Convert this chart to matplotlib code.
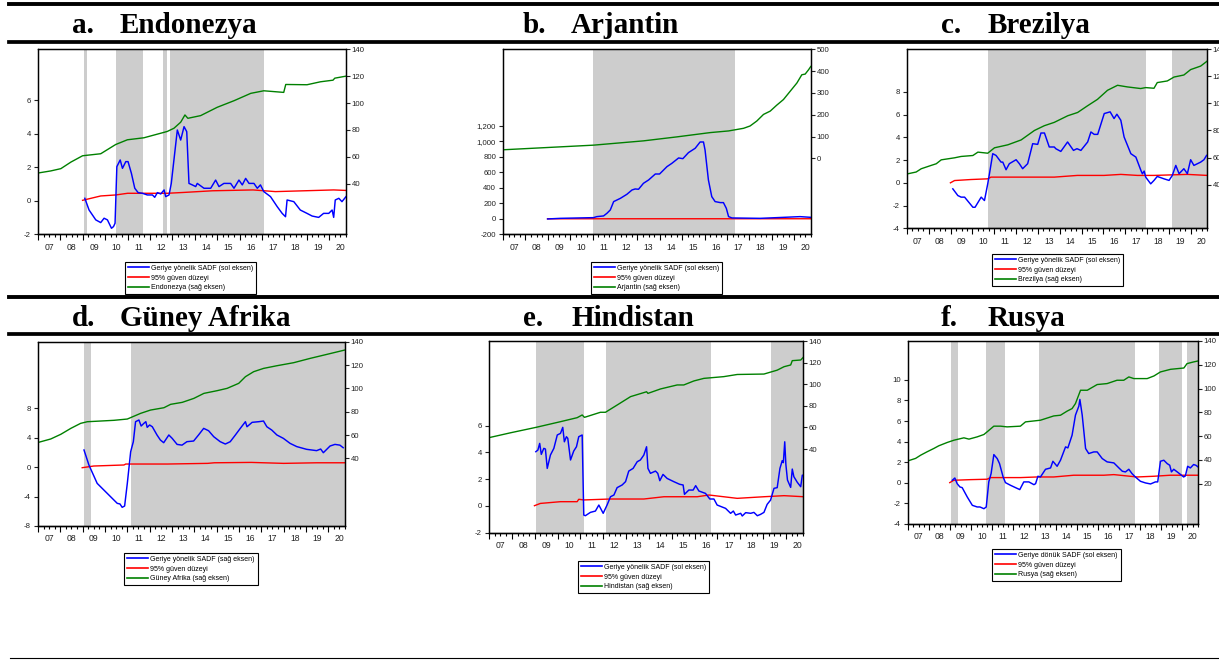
import matplotlib
matplotlib.use("Agg")
import matplotlib.pyplot as plt
from matplotlib.lines import Line2D
from matplotlib.ticker import MultipleLocator

W, H = 1219, 660
plt.rcParams['font.family'] = ['Liberation Sans', 'DejaVu Sans']

# ---- veriler ----
# a. Endonezya
endo_golge = [(2009.04, 2009.18), (2010.47, 2011.69), (2012.56, 2012.77), (2012.88, 2017.11)]
endo_yesil_t = [2007.02, 2007.57, 2008.02, 2008.47, 2008.99, 2009.80, 2010.47, 2010.99, 2011.73, 2012.77,
                2013.07, 2013.37, 2013.56, 2013.69, 2014.26, 2015.0, 2015.75, 2016.5, 2017.08, 2017.97,
                2018.06, 2019.01, 2019.61, 2020.17, 2020.25, 2020.75]
endo_yesil_v = [47.9, 49.4, 51.1, 56.0, 60.7, 62.2, 69.1, 72.6, 74.1, 78.8,
                81.2, 85.7, 91.1, 88.6, 90.6, 96.8, 101.7, 107.2, 109.1, 107.9,
                113.8, 113.6, 115.8, 117.0, 118.5, 120.0]
endo_mavi_t = [2009.09, 2009.28, 2009.58, 2009.80, 2009.95, 2010.10, 2010.28, 2010.37, 2010.44, 2010.52,
               2010.67, 2010.77, 2010.92, 2011.02, 2011.17, 2011.32, 2011.47, 2011.66, 2011.88, 2012.11,
               2012.21, 2012.33, 2012.48, 2012.63, 2012.70, 2012.85, 2012.95, 2013.22, 2013.37, 2013.52,
               2013.64, 2013.74, 2013.89, 2014.04, 2014.11, 2014.41, 2014.71, 2014.93, 2015.08, 2015.30,
               2015.60, 2015.75, 2015.97, 2016.12, 2016.27, 2016.42, 2016.64, 2016.79, 2016.93, 2017.08,
               2017.38, 2017.68, 2017.90, 2018.05, 2018.12, 2018.42, 2018.71, 2019.01, 2019.24, 2019.53,
               2019.75, 2019.98, 2020.13, 2020.20, 2020.27, 2020.43, 2020.57, 2020.75]
endo_mavi_v = [0.15, -0.55, -1.14, -1.30, -1.04, -1.14, -1.64, -1.54, -1.34, 2.04,
               2.44, 1.94, 2.34, 2.34, 1.64, 0.75, 0.49, 0.45, 0.35, 0.35,
               0.21, 0.49, 0.41, 0.65, 0.25, 0.35, 1.04, 4.23, 3.63, 4.43,
               4.13, 1.04, 0.95, 0.85, 1.04, 0.75, 0.75, 1.24, 0.85, 1.04,
               1.04, 0.75, 1.24, 0.95, 1.34, 1.04, 1.04, 0.75, 0.95, 0.55,
               0.25, -0.35, -0.75, -0.95, 0.05, -0.05, -0.55, -0.75, -0.91, -0.99,
               -0.75, -0.75, -0.55, -0.99, 0.05, 0.15, -0.05, 0.25]
endo_kirmizi_t = [2008.99, 2009.8, 2010.47, 2011.0, 2012.77, 2013.5, 2014.8, 2016.6, 2017.6, 2020.2, 2020.75]
endo_kirmizi_v = [0.03, 0.29, 0.35, 0.45, 0.45, 0.5, 0.6, 0.65, 0.55, 0.65, 0.62]

# b. Arjantin
arj_golge = [(2011.04, 2017.34)]
arj_yesil_t = [2007.0, 2011.04, 2013.27, 2014.76, 2016.25, 2017.07, 2017.74, 2018.03, 2018.33, 2018.63,
               2018.93, 2019.22, 2019.52, 2019.82, 2020.12, 2020.34, 2020.49, 2020.64, 2020.74]
arj_yesil_v = [39.4, 60.6, 80.3, 98.5, 118.2, 125.8, 137.9, 148.5, 171.2, 201.5,
               216.7, 243.9, 269.7, 307.6, 345.5, 383.3, 386.4, 406.1, 421.2]
arj_mavi_t = [2008.99, 2009.56, 2011.04, 2011.19, 2011.49, 2011.64, 2011.79, 2011.94, 2012.24, 2012.53,
              2012.76, 2012.90, 2013.05, 2013.27, 2013.50, 2013.80, 2013.99, 2014.32, 2014.54, 2014.84,
              2015.03, 2015.28, 2015.58, 2015.80, 2015.95, 2016.02, 2016.17, 2016.32, 2016.47, 2016.70,
              2016.84, 2016.97, 2017.07, 2017.22, 2018.48, 2019.22, 2020.26, 2020.74]
arj_mavi_v = [-2, 6, 15, 28, 37, 71, 114, 222, 264, 316,
              372, 385, 381, 458, 501, 578, 578, 673, 716, 785,
              776, 854, 910, 991, 991, 888, 501, 286, 222, 209,
              209, 135, 28, 11, 6, 15, 28, 19]
arj_kirmizi_t = [2008.99, 2012.0, 2016.0, 2020.74]
arj_kirmizi_v = [0.0, 0.4, 0.6, 0.7]

# c. Brezilya
brz_golge = [(2010.73, 2017.94), (2019.16, 2020.8)]
brz_yesil_t = [2007.04, 2007.42, 2007.65, 2008.11, 2008.34, 2008.57, 2009.18, 2009.48, 2010.02, 2010.25,
               2010.70, 2011.01, 2011.62, 2012.23, 2012.84, 2013.29, 2013.75, 2014.37, 2014.82, 2015.27,
               2015.73, 2016.19, 2016.65, 2017.10, 2017.71, 2017.94, 2018.32, 2018.47, 2018.93, 2019.24,
               2019.69, 2020.0, 2020.46, 2020.76]
brz_yesil_v = [48.0, 49.3, 51.7, 54.2, 55.4, 58.3, 59.8, 60.8, 61.5, 64.0,
               63.2, 67.2, 69.4, 73.0, 80.0, 83.5, 86.0, 90.9, 93.3, 98.2,
               103.0, 109.7, 113.4, 112.2, 111.0, 111.7, 111.2, 115.4, 116.6, 119.5,
               121.0, 125.0, 127.6, 131.3]
brz_mavi_t = [2009.10, 2009.33, 2009.48, 2009.64, 2010.02, 2010.12, 2010.40, 2010.55, 2010.70, 2010.78,
              2010.93, 2011.08, 2011.31, 2011.39, 2011.54, 2011.69, 2012.0, 2012.15, 2012.30, 2012.53,
              2012.76, 2012.99, 2013.14, 2013.30, 2013.52, 2013.75, 2013.82, 2014.05, 2014.36, 2014.63,
              2014.79, 2014.97, 2015.28, 2015.43, 2015.58, 2015.74, 2016.04, 2016.31, 2016.49, 2016.62,
              2016.80, 2016.95, 2017.26, 2017.49, 2017.72, 2017.79, 2017.87, 2017.94, 2018.17, 2018.32,
              2018.47, 2018.78, 2019.01, 2019.16, 2019.32, 2019.47, 2019.69, 2019.85, 2020.0, 2020.15,
              2020.46, 2020.61, 2020.73]
brz_mavi_v = [-0.53, -1.12, -1.26, -1.26, -2.15, -2.15, -1.26, -1.56, -0.09, 0.80,
              2.56, 2.41, 1.82, 1.82, 1.15, 1.68, 2.03, 1.68, 1.24, 1.68,
              3.44, 3.38, 4.38, 4.38, 3.15, 3.15, 3.00, 2.76, 3.59, 2.85,
              3.00, 2.85, 3.59, 4.47, 4.26, 4.26, 6.09, 6.24, 5.65, 6.03,
              5.50, 4.03, 2.56, 2.26, 1.09, 0.79, 1.03, 0.50, -0.09, 0.21,
              0.56, 0.35, 0.21, 0.65, 1.53, 0.80, 1.24, 0.80, 2.03, 1.53,
              1.82, 2.03, 2.41]
brz_kirmizi_t = [2008.99, 2009.18, 2009.94, 2010.70, 2010.85, 2012.23, 2013.75, 2014.81, 2016.03, 2016.80,
                 2017.56, 2018.32, 2019.85, 2020.76]
brz_kirmizi_v = [0.0, 0.2, 0.29, 0.35, 0.5, 0.5, 0.5, 0.65, 0.65, 0.74, 0.65, 0.65, 0.74, 0.65]

# d. Guney Afrika
gaf_golge = [(2009.05, 2009.36), (2011.15, 2020.8)]
gaf_yesil_t = [2007.02, 2007.57, 2008.02, 2008.47, 2008.91, 2009.21, 2009.81, 2010.40, 2011.0, 2011.6,
               2012.04, 2012.64, 2012.94, 2013.46, 2013.98, 2014.43, 2015.02, 2015.47, 2015.99, 2016.29,
               2016.66, 2017.10, 2017.70, 2018.45, 2019.19, 2019.93, 2020.75]
gaf_yesil_v = [53.7, 56.6, 60.6, 65.7, 70.0, 71.4, 72.0, 72.6, 73.7, 78.6,
               81.4, 83.4, 86.3, 88.0, 91.4, 95.7, 98.0, 100.0, 104.3, 110.0,
               114.3, 117.1, 119.4, 122.0, 125.7, 129.1, 132.9]
gaf_mavi_t = [2009.06, 2009.28, 2009.65, 2010.10, 2010.55, 2010.67, 2010.77, 2010.88, 2011.0, 2011.15,
              2011.27, 2011.37, 2011.52, 2011.62, 2011.74, 2011.83, 2011.89, 2012.0, 2012.12, 2012.33,
              2012.48, 2012.63, 2012.86, 2013.01, 2013.23, 2013.45, 2013.67, 2013.97, 2014.19, 2014.42,
              2014.64, 2014.87, 2015.16, 2015.39, 2015.61, 2015.84, 2016.06, 2016.29, 2016.36, 2016.59,
              2016.89, 2017.10, 2017.25, 2017.47, 2017.70, 2017.99, 2018.29, 2018.59, 2019.03, 2019.48,
              2019.66, 2019.78, 2020.08, 2020.30, 2020.52, 2020.67]
gaf_mavi_v = [2.34, 0.30, -2.20, -3.56, -4.92, -5.00, -5.46, -5.28, -2.20, 2.10,
              3.47, 6.19, 6.42, 5.60, 5.96, 6.19, 5.42, 5.74, 5.50, 4.38,
              3.70, 3.33, 4.38, 3.92, 3.10, 3.00, 3.47, 3.56, 4.38, 5.28,
              4.96, 4.15, 3.47, 3.15, 3.47, 4.38, 5.28, 6.19, 5.50, 6.10,
              6.19, 6.28, 5.50, 5.05, 4.38, 3.92, 3.24, 2.80, 2.43, 2.25,
              2.47, 1.97, 2.88, 3.10, 3.00, 2.65]
gaf_kirmizi_t = [2008.98, 2009.5, 2010.85, 2010.93, 2012.8, 2014.6, 2014.9, 2016.55, 2018.0, 2019.5, 2020.75]
gaf_kirmizi_v = [-0.07, 0.16, 0.30, 0.43, 0.43, 0.52, 0.60, 0.65, 0.52, 0.60, 0.60]

# e. Hindistan
hnd_golge = [(2009.05, 2011.18), (2012.14, 2016.70), (2019.33, 2020.8)]
hnd_yesil_t = [2007.0, 2007.94, 2009.05, 2010.13, 2010.86, 2011.08, 2011.18, 2011.88, 2012.10, 2012.61,
               2013.20, 2013.90, 2013.96, 2014.51, 2015.24, 2015.53, 2015.97, 2016.41, 2017.28, 2017.87,
               2019.04, 2019.62, 2019.92, 2020.21, 2020.28, 2020.65, 2020.79]
hnd_yesil_v = [50.5, 55.0, 60.0, 65.3, 69.0, 71.5, 69.3, 74.0, 74.0, 80.7,
               88.5, 93.0, 91.5, 95.6, 99.3, 99.3, 103.0, 105.4, 107.0, 109.0,
               109.4, 113.0, 116.2, 117.8, 121.8, 122.4, 125.5]
hnd_mavi_t = [2009.05, 2009.14, 2009.22, 2009.29, 2009.40, 2009.47, 2009.55, 2009.69, 2009.84, 2009.99,
              2010.13, 2010.23, 2010.30, 2010.39, 2010.45, 2010.57, 2010.71, 2010.83, 2010.93, 2011.08,
              2011.15, 2011.22, 2011.44, 2011.66, 2011.81, 2012.0, 2012.17, 2012.32, 2012.47, 2012.61,
              2012.83, 2012.98, 2013.12, 2013.31, 2013.49, 2013.63, 2013.78, 2013.90, 2013.96, 2014.07,
              2014.29, 2014.39, 2014.48, 2014.62, 2014.80, 2015.09, 2015.35, 2015.50, 2015.56, 2015.75,
              2015.94, 2016.05, 2016.19, 2016.48, 2016.67, 2016.85, 2016.99, 2017.36, 2017.58, 2017.70,
              2017.80, 2018.02, 2018.09, 2018.24, 2018.46, 2018.60, 2018.75, 2018.89, 2019.04, 2019.18,
              2019.33, 2019.48, 2019.62, 2019.74, 2019.84, 2019.89, 2019.95, 2020.0, 2020.07, 2020.21,
              2020.28, 2020.35, 2020.50, 2020.65, 2020.72, 2020.79]
hnd_mavi_v = [4.06, 4.18, 4.68, 3.86, 4.31, 4.26, 2.81, 3.81, 4.31, 5.31,
              5.43, 5.88, 4.80, 5.18, 5.06, 3.44, 4.11, 4.43, 5.18, 5.31,
              -0.68, -0.73, -0.48, -0.38, 0.07, -0.55, 0.07, 0.69, 0.82, 1.37,
              1.57, 1.82, 2.61, 2.81, 3.31, 3.44, 3.81, 4.43, 2.81, 2.44,
              2.61, 2.44, 1.89, 2.36, 2.06, 1.82, 1.62, 1.57, 0.87, 1.19,
              1.19, 1.52, 1.12, 0.94, 0.52, 0.52, 0.07, -0.18, -0.55, -0.38,
              -0.68, -0.55, -0.75, -0.50, -0.55, -0.48, -0.73, -0.63, -0.48, 0.12,
              0.44, 1.32, 1.37, 2.81, 3.39, 3.24, 4.80, 3.10, 1.94, 1.39,
              2.76, 2.19, 1.77, 1.44, 2.31, 2.24]
hnd_kirmizi_t = [2008.99, 2009.25, 2010.13, 2010.86, 2010.93, 2011.15, 2012.32, 2013.78, 2014.66, 2016.12,
                 2016.63, 2017.87, 2019.04, 2019.92, 2020.79]
hnd_kirmizi_v = [0.02, 0.19, 0.32, 0.32, 0.50, 0.45, 0.52, 0.52, 0.69, 0.69, 0.82, 0.57, 0.69, 0.77, 0.69]

# f. Rusya
rus_golge = [(2009.06, 2009.35), (2010.72, 2011.62), (2013.23, 2017.77), (2018.89, 2020.01), (2020.23, 2020.8)]
rus_yesil_t = [2007.01, 2007.36, 2007.60, 2007.91, 2008.23, 2008.46, 2008.86, 2009.18, 2009.65, 2009.89,
               2010.28, 2010.60, 2010.75, 2011.07, 2011.39, 2011.70, 2012.33, 2012.57, 2013.28, 2013.91,
               2014.23, 2014.54, 2014.78, 2014.94, 2015.18, 2015.50, 2015.97, 2016.44, 2016.91, 2017.23,
               2017.47, 2017.71, 2018.34, 2018.66, 2018.97, 2019.45, 2020.08, 2020.23, 2020.54, 2020.75]
rus_yesil_v = [39.3, 41.3, 44.0, 46.9, 49.7, 51.9, 54.7, 56.6, 58.6, 57.5,
               59.4, 61.4, 63.6, 68.4, 68.4, 67.8, 68.4, 72.0, 73.4, 77.0,
               77.6, 81.0, 83.2, 87.4, 98.6, 98.6, 103.4, 104.2, 107.0, 107.0,
               109.8, 108.4, 108.4, 110.6, 114.0, 116.2, 117.3, 121.0, 122.4, 123.2]
rus_mavi_t = [2009.10, 2009.22, 2009.33, 2009.46, 2009.57, 2009.81, 2010.05, 2010.28, 2010.41, 2010.60,
              2010.71, 2010.75, 2010.83, 2010.94, 2011.07, 2011.23, 2011.34, 2011.51, 2011.62, 2011.86,
              2012.10, 2012.30, 2012.49, 2012.73, 2012.97, 2013.05, 2013.16, 2013.28, 2013.52, 2013.76,
              2013.87, 2014.07, 2014.23, 2014.47, 2014.58, 2014.78, 2014.94, 2015.10, 2015.15, 2015.26,
              2015.42, 2015.57, 2015.81, 2015.97, 2016.21, 2016.44, 2016.76, 2017.0, 2017.16, 2017.31,
              2017.47, 2017.62, 2017.78, 2018.02, 2018.26, 2018.50, 2018.73, 2018.84, 2018.97, 2019.13,
              2019.29, 2019.41, 2019.49, 2019.60, 2019.83, 2020.07, 2020.15, 2020.26, 2020.39, 2020.54,
              2020.65, 2020.75]
rus_mavi_v = [0.23, 0.45, -0.10, -0.42, -0.49, -1.40, -2.21, -2.37, -2.37, -2.54,
              -2.37, -1.56, 0.07, 0.88, 2.73, 2.34, 1.85, 0.55, 0.0, -0.26,
              -0.49, -0.68, 0.07, 0.07, -0.20, -0.10, 0.62, 0.55, 1.30, 1.43,
              2.08, 1.59, 2.18, 3.48, 3.38, 4.62, 6.57, 7.45, 8.10, 6.57,
              3.32, 2.83, 2.99, 2.99, 2.34, 2.02, 1.92, 1.43, 1.11, 1.04,
              1.30, 0.88, 0.55, 0.13, -0.03, -0.13, 0.07, 0.07, 2.08, 2.18,
              1.85, 1.69, 1.04, 1.30, 0.94, 0.55, 0.65, 1.59, 1.43, 1.76,
              1.69, 1.53]
rus_kirmizi_t = [2008.98, 2009.17, 2009.96, 2010.75, 2010.91, 2012.33, 2013.12, 2013.91, 2014.86, 2016.28,
                 2016.76, 2017.86, 2018.66, 2019.44, 2020.75]
rus_kirmizi_v = [0.0, 0.23, 0.29, 0.33, 0.49, 0.49, 0.55, 0.55, 0.72, 0.72, 0.78, 0.55, 0.62, 0.72, 0.72]

yillar = list(range(2007, 2021))
yil_etiket = ['%02d' % (y - 2000) for y in yillar]

MAVI, KIRMIZI, YESIL, GRI = '#0000ff', '#ff0000', '#008000', '#cdcdcd'

fig = plt.figure(figsize=(W / 100, H / 100), dpi=100)


def kutu(x0, y0, x1, y1):
    return [x0 / W, 1 - y1 / H, (x1 - x0) / W, (y1 - y0) / H]


def ciz(px, golge, mavi, kirmizi, yesil, sol_lim, sol_tik, sag_lim, sag_tik,
        lejant_xy, etiketler, fmt=lambda v: '%d' % v):
    ax = fig.add_axes(kutu(*px))
    for a, b in golge:
        ax.axvspan(a, b, color=GRI, lw=0, zorder=0)
    ax.plot(kirmizi[0], kirmizi[1], color=KIRMIZI, lw=1.0, zorder=2)
    ax.plot(mavi[0], mavi[1], color=MAVI, lw=1.05, zorder=3)
    ax.set_xlim(2007.0, 2020.75)
    ax.set_ylim(*sol_lim)
    ax.set_yticks(sol_tik, [fmt(v) for v in sol_tik])
    ax.tick_params(axis='y', direction='out', length=3, width=0.8, labelsize=5.6, pad=2, colors='#222222')
    ax.set_xticks(yillar, [''] * len(yillar))
    ax.xaxis.set_minor_locator(MultipleLocator(0.25))
    ax.tick_params(axis='x', which='major', direction='out', length=4.5, width=0.8)
    ax.tick_params(axis='x', which='minor', direction='out', length=2.5, width=0.8)
    for s in ax.spines.values():
        s.set_linewidth(0.9)

    sec = ax.secondary_xaxis('bottom')
    sec.set_xticks([y + 0.5 for y in yillar], yil_etiket)
    sec.tick_params(length=0, pad=6, labelsize=6.2, colors='#222222')
    sec.spines['bottom'].set_linewidth(0.9)

    ax2 = ax.twinx()
    ax2.plot(yesil[0], yesil[1], color=YESIL, lw=1.0)
    ax2.set_ylim(*sag_lim)
    ax2.set_yticks(sag_tik, ['%d' % v for v in sag_tik])
    ax2.tick_params(axis='y', direction='out', length=3, width=0.8, labelsize=5.6, pad=1, colors='#222222')
    for s in ax2.spines.values():
        s.set_linewidth(0.9)

    hs = [Line2D([], [], color=c, lw=1.2) for c in (MAVI, KIRMIZI, YESIL)]
    leg = fig.legend(hs, etiketler, loc='upper left',
                     bbox_to_anchor=(lejant_xy[0] / W, 1 - lejant_xy[1] / H),
                     fontsize=5.0, frameon=True, fancybox=False, edgecolor='black', framealpha=1,
                     handlelength=3.0, handletextpad=0.4, labelspacing=0.4, borderpad=0.4,
                     borderaxespad=0)
    leg.get_frame().set_linewidth(0.8)


def baslik(x_harf, x_ad, y, harf, ad):
    for x, t in ((x_harf, harf), (x_ad, ad)):
        fig.text(x / W, 1 - y / H, t, fontfamily='Liberation Serif', fontweight='bold',
                 fontsize=21, va='baseline', ha='left')


# cizgiler
for y, lw, x0 in ((3.7, 2.8, 9), (41.8, 2.7, 9), (296.8, 2.8, 9), (333.7, 2.7, 9), (658, 0.8, 10)):
    fig.add_artist(Line2D([x0 / W, 1], [1 - y / H, 1 - y / H], color='black', lw=lw))

baslik(72, 120, 33.3, 'a.', 'Endonezya')
baslik(523, 571, 33.3, 'b.', 'Arjantin')
baslik(941, 988, 33.3, 'c.', 'Brezilya')
baslik(72, 120, 325.7, 'd.', 'Güney Afrika')
baslik(523, 571, 325.7, 'e.', 'Hindistan')
baslik(941, 988, 325.7, 'f.', 'Rusya')

ciz((38, 49.3, 346, 234.3), endo_golge, (endo_mavi_t, endo_mavi_v), (endo_kirmizi_t, endo_kirmizi_v),
    (endo_yesil_t, endo_yesil_v), (-2, 9.05), [-2, 0, 2, 4, 6], (2.2, 140), [40, 60, 80, 100, 120, 140],
    (125, 262), ['Geriye yönelik SADF (sol eksen)', '95% güven düzeyi', 'Endonezya (sağ eksen)'])

ciz((503, 49.3, 811, 234.3), arj_golge, (arj_mavi_t, arj_mavi_v), (arj_kirmizi_t, arj_kirmizi_v),
    (arj_yesil_t, arj_yesil_v), (-200, 2187), [-200, 0, 200, 400, 600, 800, 1000, 1200], (-348, 493),
    [0, 100, 200, 300, 400, 500], (591, 262),
    ['Geriye yönelik SADF (sol eksen)', '95% güven düzeyi', 'Arjantin (sağ eksen)'],
    fmt=lambda v: '{:,.0f}'.format(v))

ciz((907, 49.3, 1207, 228.3), brz_golge, (brz_mavi_t, brz_mavi_v), (brz_kirmizi_t, brz_kirmizi_v),
    (brz_yesil_t, brz_yesil_v), (-4, 11.74), [-4, -2, 0, 2, 4, 6, 8], (7.7, 139.1),
    [40, 60, 80, 100, 120, 140], (992, 254),
    ['Geriye yönelik SADF (sol eksen)', '95% güven düzeyi', 'Brezilya (sağ eksen)'])

ciz((38, 341.7, 345, 526), gaf_golge, (gaf_mavi_t, gaf_mavi_v), (gaf_kirmizi_t, gaf_kirmizi_v),
    (gaf_yesil_t, gaf_yesil_v), (-8, 17.07), [-8, -4, 0, 4, 8], (-18, 140),
    [40, 60, 80, 100, 120, 140], (124, 553),
    ['Geriye yönelik SADF (sağ eksen)', '95% güven düzeyi', 'Güney Afrika (sağ eksen)'])

ciz((489, 341, 803, 532.7), hnd_golge, (hnd_mavi_t, hnd_mavi_v), (hnd_kirmizi_t, hnd_kirmizi_v),
    (hnd_yesil_t, hnd_yesil_v), (-2, 12.34), [-2, 0, 2, 4, 6], (-37.5, 140),
    [40, 60, 80, 100, 120, 140], (578, 561),
    ['Geriye yönelik SADF (sol eksen)', '95% güven düzeyi', 'Hindistan (sağ eksen)'])

ciz((908, 341, 1198, 523.7), rus_golge, (rus_mavi_t, rus_mavi_v), (rus_kirmizi_t, rus_kirmizi_v),
    (rus_yesil_t, rus_yesil_v), (-4, 13.79), [-4, -2, 0, 2, 4, 6, 8, 10], (-13.6, 139.7),
    [20, 40, 60, 80, 100, 120, 140], (992, 549),
    ['Geriye dönük SADF (sol eksen)', '95% güven düzeyi', 'Rusya (sağ eksen)'])

fig.savefig('out.png', dpi=100)
